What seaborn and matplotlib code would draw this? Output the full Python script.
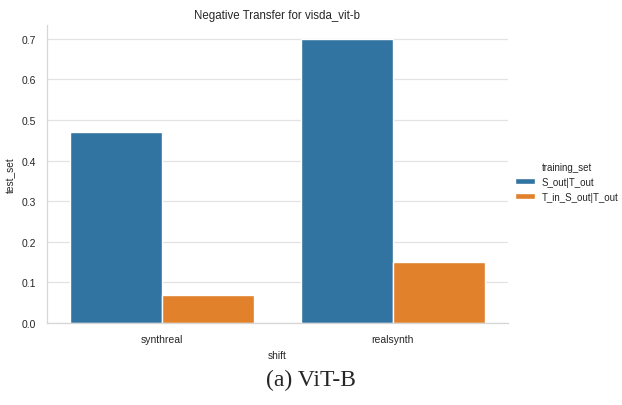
import pandas as pd
import matplotlib
matplotlib.use("Agg")
import matplotlib.pyplot as plt
import seaborn as sns

# Values
shifts = ["synthreal", "realsynth"]
training_sets = ["S_out|T_out", "T_in_S_out|T_out"]
s_out_vals = [0.471, 0.699]
t_in_vals = [0.069, 0.150]

df = pd.DataFrame(
    {
        "shift": shifts * 2,
        "training_set": [training_sets[0]] * 2 + [training_sets[1]] * 2,
        "test_set": s_out_vals + t_in_vals,
    }
)

sns.set_theme(style="whitegrid", rc={"grid.color": "#e3e3e3", "axes.edgecolor": "#d6d6d6"})
plt.rcParams["font.family"] = ["Liberation Sans", "DejaVu Sans"]

fig = plt.figure(figsize=(6.22, 4.06), dpi=100)
ax = fig.add_axes([0.0756, 0.202, 0.741, 0.734])

sns.barplot(data=df, x="shift", y="test_set", hue="training_set",
            palette="tab10", ax=ax)
sns.despine(ax=ax)

ax.set_title("Negative Transfer for visda_vit-b", fontsize=8.3, pad=5)
ax.set_xlabel("shift", fontsize=7.3)
ax.set_ylabel("test_set", fontsize=7.3)
ax.tick_params(axis="both", labelsize=7.5, pad=2)
ax.yaxis.labelpad = 4
ax.xaxis.labelpad = 4
ax.grid(axis="y", linewidth=0.9)
for s in ["left", "bottom"]:
    ax.spines[s].set_linewidth(0.9)

ax.legend_.remove()
handles, labels = ax.get_legend_handles_labels()
fig.legend(
    handles,
    labels,
    title="training_set",
    loc="center left",
    bbox_to_anchor=(0.822, 0.55),
    frameon=False,
    fontsize=7,
    title_fontsize=7,
    handlelength=2.0,
    handleheight=0.6,
    handletextpad=0.7,
    borderpad=0.2,
    borderaxespad=0.2,
)

fig.text(0.5, 0.062, "(a) ViT-B", ha="center", va="center",
         family=["Liberation Serif", "DejaVu Serif"], fontsize=17)

fig.savefig("out.png", dpi=100)
